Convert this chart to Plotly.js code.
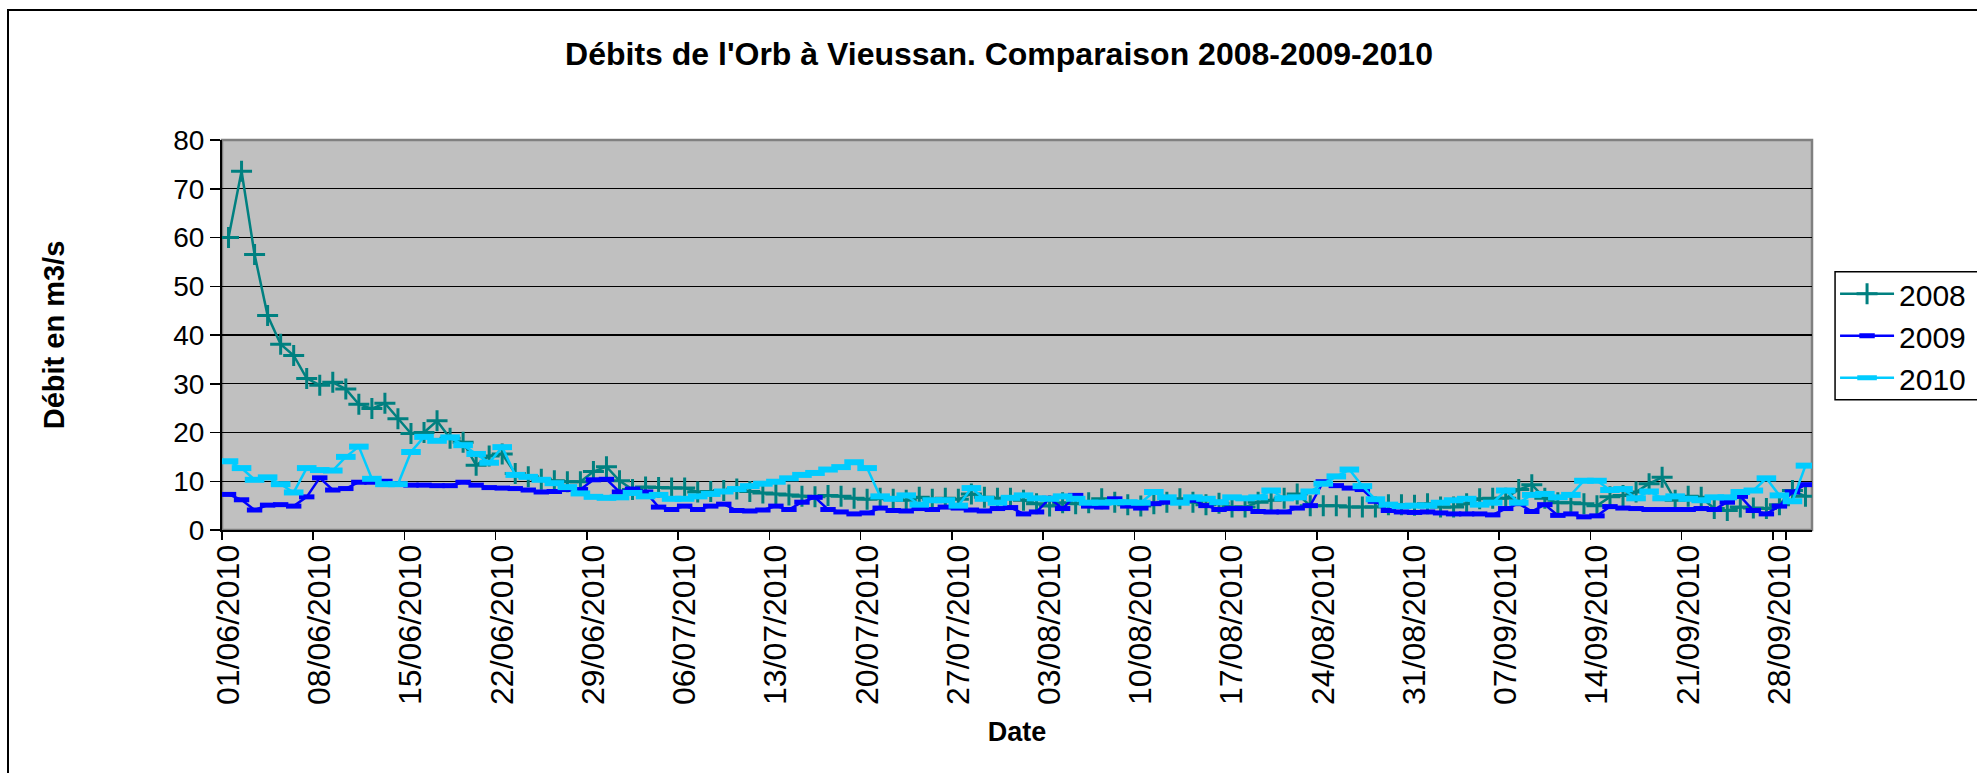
<!DOCTYPE html>
<html>
<head>
<meta charset="utf-8">
<script src="https://cdn.plot.ly/plotly-3.0.1.min.js"></script>
<style>
  html, body { margin: 0; padding: 0; background: #ffffff; overflow: hidden; }
  #frame { position: absolute; left: 7px; top: 9px; width: 2100px; height: 900px; border: 2px solid #000; box-sizing: border-box; pointer-events: none; z-index: 5; }
  #chart { position: absolute; left: 0; top: 0; width: 1977px; height: 773px; }
</style>
</head>
<body>
<div id="chart"></div>
<div id="frame"></div>
<script>
// Categories: daily dates 01/06 -> 30/09 (2010 labels)
const monthSpec = [["06", 30], ["07", 31], ["08", 31], ["09", 30]];
const dates = [];
monthSpec.forEach(([m, n]) => {
  for (let d = 1; d <= n; d++) dates.push(String(d).padStart(2, "0") + "/" + m + "/2010");
});

const q2008 = [
  60.0, 73.6, 56.5, 44.0, 38.1, 35.8, 31.1, 29.7, 30.3, 28.9,
  25.8, 24.9, 26.0, 22.8, 19.8, 20.0, 22.4, 18.8, 18.0, 13.3,
  15.2, 15.6, 11.6, 10.9, 10.4, 10.1, 9.9, 9.9, 12.0, 13.0,
  10.1, 8.3, 8.8, 8.7, 8.6, 8.6, 7.8, 7.9, 8.1, 8.4,
  7.9, 7.6, 7.4, 7.2, 6.9, 6.8, 7.1, 6.9, 6.5, 6.3,
  6.5, 6.3, 6.1, 6.7, 6.3, 6.5, 6.3, 7.4, 6.7, 6.5,
  6.5, 6.1, 5.4, 4.9, 5.6, 5.4, 5.6, 6.4, 5.7, 5.2,
  4.9, 5.4, 5.7, 6.4, 5.7, 5.2, 5.5, 4.7, 4.7, 5.7,
  6.1, 6.5, 7.4, 5.0, 5.0, 5.0, 4.7, 4.7, 4.7, 5.2,
  5.2, 5.1, 5.4, 4.7, 4.7, 5.4, 6.4, 6.5, 6.5, 8.3,
  9.3, 6.5, 5.6, 5.6, 5.4, 5.0, 6.8, 7.1, 7.8, 9.5,
  10.8, 6.1, 6.9, 6.7, 4.4, 4.0, 4.7, 4.5, 4.4, 5.2,
  8.1, 6.9
];

const q2009 = [
  7.3, 6.2, 4.1, 5.1, 5.2, 4.9, 6.8, 10.7, 8.2, 8.5,
  9.8, 9.8, 10.0, 9.5, 9.2, 9.2, 9.1, 9.1, 9.8, 9.2,
  8.7, 8.6, 8.5, 8.2, 7.8, 7.9, 8.3, 8.3, 10.3, 10.4,
  7.8, 8.4, 7.8, 4.7, 4.2, 4.9, 4.2, 4.9, 5.3, 4.0,
  3.9, 4.1, 4.9, 4.2, 5.7, 6.7, 4.2, 3.7, 3.3, 3.5,
  4.5, 4.0, 3.9, 4.4, 4.2, 4.7, 4.5, 4.1, 3.9, 4.4,
  4.6, 3.3, 3.7, 6.5, 4.4, 7.1, 4.9, 4.7, 6.4, 4.9,
  4.5, 5.4, 5.7, 5.7, 6.1, 5.0, 4.2, 4.4, 4.4, 3.8,
  3.7, 3.7, 4.5, 5.0, 9.9, 9.1, 8.6, 8.3, 5.9, 4.0,
  3.7, 3.6, 3.7, 3.5, 3.3, 3.3, 3.3, 3.1, 4.4, 5.4,
  3.8, 5.2, 3.0, 3.3, 2.7, 2.9, 4.8, 4.5, 4.4, 4.2,
  4.2, 4.2, 4.2, 4.4, 4.2, 5.7, 6.9, 4.0, 3.3, 4.9,
  7.8, 9.3
];

const q2010 = [
  14.1, 12.7, 10.3, 10.8, 9.4, 7.7, 12.7, 12.3, 12.2, 15.0,
  17.1, 10.5, 9.4, 9.4, 16.0, 19.1, 18.3, 19.0, 17.4, 15.6,
  13.8, 17.0, 11.3, 10.9, 10.3, 9.6, 8.8, 7.5, 6.8, 6.6,
  6.7, 7.6, 6.9, 7.2, 6.4, 6.4, 6.9, 7.4, 7.9, 8.4,
  9.0, 9.5, 9.9, 10.6, 11.3, 11.7, 12.4, 12.9, 13.9, 12.7,
  6.9, 6.4, 7.1, 5.2, 6.1, 6.1, 5.0, 8.6, 6.4, 5.6,
  6.6, 7.1, 6.5, 6.4, 6.9, 6.4, 5.6, 5.6, 5.7, 5.7,
  5.6, 7.8, 6.7, 5.6, 6.7, 6.4, 5.7, 6.7, 6.5, 6.7,
  8.1, 6.5, 6.7, 7.9, 9.5, 11.0, 12.4, 9.0, 6.3, 5.2,
  4.9, 5.0, 5.0, 5.6, 6.1, 6.4, 5.2, 5.6, 8.1, 5.6,
  7.2, 7.4, 6.7, 7.2, 10.1, 10.1, 8.2, 8.4, 6.5, 7.9,
  6.5, 6.9, 6.4, 6.1, 6.7, 6.7, 7.8, 8.1, 10.6, 7.1,
  5.9, 13.2
];

const yTicks = [0, 10, 20, 30, 40, 50, 60, 70, 80];
const xTickVals = dates.filter((d, i) => i % 7 === 0);

const FONT = "Liberation Sans, Arial, Helvetica, sans-serif";

const traces = [
  {
    name: "2008", x: dates, y: q2008, type: "scatter", mode: "lines+markers",
    line: { color: "#008080", width: 2.5 },
    marker: { symbol: "cross-thin", size: 15, color: "#008080", line: { color: "#008080", width: 3 } }
  },
  {
    name: "2009", x: dates, y: q2009, type: "scatter", mode: "lines+markers",
    line: { color: "#0000FF", width: 2.5 },
    marker: { symbol: "line-ew", size: 11, color: "#0000FF", line: { color: "#0000FF", width: 5 } }
  },
  {
    name: "2010", x: dates, y: q2010, type: "scatter", mode: "lines+markers",
    line: { color: "#00CCFF", width: 2.5 },
    marker: { symbol: "line-ew", size: 14, color: "#00CCFF", line: { color: "#00CCFF", width: 6 } }
  }
];

const layout = {
  width: 1977, height: 773,
  margin: { l: 222, r: 165, t: 140, b: 243, pad: 0 },
  paper_bgcolor: "#ffffff",
  plot_bgcolor: "#C0C0C0",
  font: { family: FONT, color: "#000000", size: 28 },
  title: {
    text: "<b>Débits de l'Orb à Vieussan. Comparaison 2008-2009-2010</b>",
    font: { family: FONT, size: 32, color: "#000" },
    x: 0.4887, xref: "paper", xanchor: "center",
    y: 0.93, yref: "container", yanchor: "middle"
  },
  xaxis: {
    type: "category",
    range: [-0.5, dates.length - 0.5],
    tickmode: "array", tickvals: xTickVals, ticktext: xTickVals,
    tickson: "boundaries",
    ticks: "outside", ticklen: 8, tickwidth: 1.5, tickcolor: "#000",
    tickangle: -90,
    tickfont: { family: FONT, size: 32, color: "#000" },
    showgrid: false, showline: true, linecolor: "#000", linewidth: 2,
    zeroline: false,
    title: { text: "<b>Date</b>", font: { family: FONT, size: 27, color: "#000" }, standoff: 18 }
  },
  yaxis: {
    range: [0, 80], tickmode: "array", tickvals: yTicks,
    ticks: "outside", ticklen: 10, tickwidth: 1.5, tickcolor: "#000",
    tickfont: { family: FONT, size: 28, color: "#000" },
    showgrid: true, gridcolor: "#000", gridwidth: 1.2,
    showline: true, linecolor: "#000", linewidth: 2, zeroline: false,
    title: { text: "<b>Débit en m3/s</b>", font: { family: FONT, size: 29, color: "#000" }, standoff: 100 }
  },
  legend: {
    xref: "container", yref: "container",
    x: 0.9282, xanchor: "left", y: 0.6535, yanchor: "top",
    bgcolor: "rgba(0,0,0,0)", borderwidth: 0,
    font: { family: FONT, size: 30, color: "#000" },
    itemwidth: 54,
    tracegroupgap: 0
  },
  shapes: [
    { type: "rect", xref: "paper", yref: "paper", x0: 0, x1: 1, y0: 0, y1: 1,
      line: { color: "#808080", width: 2.5 }, layer: "below" },
    { type: "rect", xref: "paper", yref: "paper", x0: 1.0145, x1: 1.2, y0: 0.3338, y1: 0.6624,
      fillcolor: "#ffffff", line: { color: "#000", width: 1.5 }, layer: "below" }
  ]
};

Plotly.newPlot("chart", traces, layout, { displayModeBar: false, staticPlot: true });
</script>
</body>
</html>
